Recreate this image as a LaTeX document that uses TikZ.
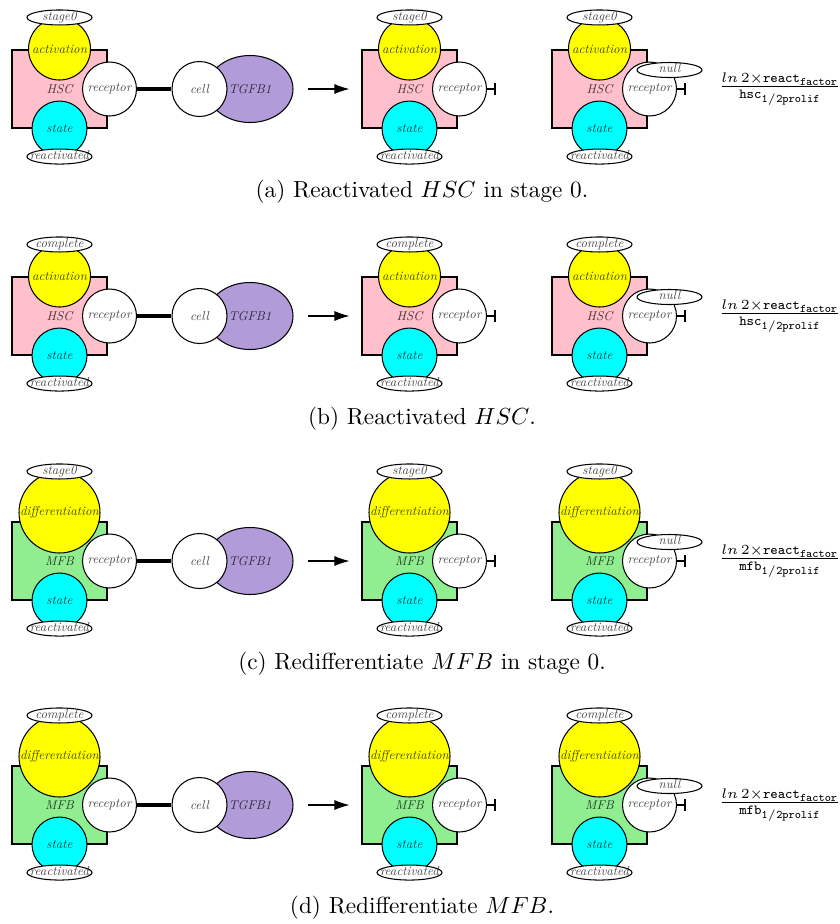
\documentclass[tikz,border=0pt]{standalone}
\usepackage{amsmath}
\usepackage{amssymb}
\usetikzlibrary{shapes.geometric,arrows.meta}

\definecolor{hscpink}{RGB}{255,192,203}
\definecolor{mfbgreen}{RGB}{144,238,144}
\definecolor{tgfpurple}{RGB}{177,156,217}
\definecolor{actyellow}{RGB}{255,255,0}
\definecolor{statecyan}{RGB}{0,255,255}

\begin{document}
\begin{tikzpicture}[x=0.43pt, y=-0.43pt, line width=0.45pt]
    \def\pxu{0.43pt} % one unit of the layout
    \def\lab#1{\scalebox{0.55}{\itshape #1}}
    \def\ztag#1{\makebox[0pt]{\lab{#1}}}
    \tikzset{
        lbl/.style={text opacity=0.72, inner sep=0pt},
        cellbox/.style={draw, minimum width=95*\pxu, minimum height=78*\pxu, lbl},
        ball/.style={draw, circle, lbl},
        tag/.style={draw, ellipse, fill=white, minimum width=65*\pxu, minimum height=15*\pxu,
            text height=3.5pt, text depth=1pt, lbl},
    }
    \useasboundingbox (0,0) rectangle (839,924);
    \foreach \r/\yr/\cname/\ccol/\act/\asize/\aoff/\stage/\rate/\capt in {
        a/89/HSC/hscpink/activation/62/-40/stage0/hsc/{Reactivated $HSC$ in stage 0.},
        b/316/HSC/hscpink/activation/62/-40/complete/hsc/{Reactivated $HSC$.},
        c/561/MFB/mfbgreen/differentiation/81/-48.5/stage0/mfb/{Redifferentiate $MFB$ in stage 0.},
        d/805/MFB/mfbgreen/differentiation/81/-48.5/complete/mfb/{Redifferentiate $MFB$.}} {
        % Compute the row positions
        \pgfmathsetmacro{\ya}{\yr+\aoff}
        \pgfmathsetmacro{\yc}{\yr+103}
        \foreach \g/\gx in {1/59.5,2/409.5,3/599.5} {
            % Cell with receptor and state variables
            \node[cellbox, fill=\ccol] (box\r\g) at (\gx,\yr) {\lab{\cname}};
            \node[ball, fill=white, minimum size=54*\pxu] (rec\r\g) at (\gx+50,\yr) {\lab{receptor}};
            \node[ball, fill=actyellow, minimum size=\asize*\pxu] (act\r\g) at (\gx,\ya) {\lab{\act}};
            \node[ball, fill=statecyan, minimum size=55*\pxu] (state\r\g) at (box\r\g.south) {\lab{state}};
            \node[tag] (stg\r\g) at (act\r\g.north) {\ztag{\stage}};
            \node[tag] (rea\r\g) at (state\r\g.south) {\ztag{reactivated}};
            % Receptor bound or blocked
            \ifnum\g=1
                \node[ellipse, draw, fill=tgfpurple, minimum width=86*\pxu, minimum height=67*\pxu, lbl] (tgf\r) at (250,\yr) {\lab{TGFB1}};
                \node[ball, fill=white, minimum size=55*\pxu] (lig\r) at (199.5,\yr) {\lab{cell}};
                \draw[line width=1.4pt] (rec\r1) -- (lig\r);
            \else
                \draw[-{Bar[width=12*\pxu]}] (rec\r\g.east) -- ++(8.5,0);
            \fi
            \ifnum\g=3
                \node[tag] (null\r) at ([shift={(20,-19)}]rec\r3.center) {\ztag{null}};
            \fi
        }
        \draw[-{Latex[length=15*\pxu, width=10*\pxu]}] ([xshift=14*\pxu]tgf\r.east) -- ([xshift=-12*\pxu]box\r2.west);
        % Rate of the reaction
        \node[font=\fontsize{8.5}{10}\selectfont] (rate\r) at (780,\yr)
            {$\frac{ln\,2\times\mathtt{react}_{\mathtt{factor}}}{\mathtt{\rate}_{\mathtt{1/2prolif}}}$};
        \node (cap\r) at (422,\yc) {(\r) \capt};
    }
\end{tikzpicture}
\end{document}
